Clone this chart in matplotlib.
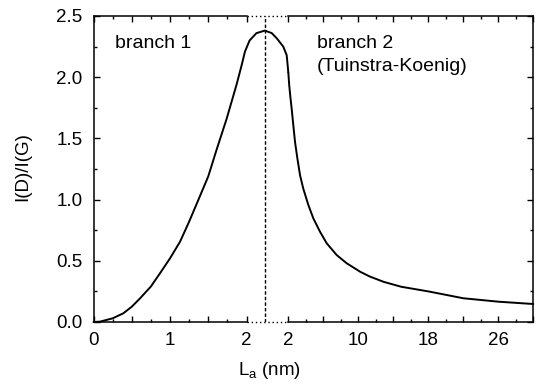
import matplotlib
matplotlib.use("Agg")
import matplotlib.pyplot as plt
from matplotlib.ticker import FixedLocator, FixedFormatter

plt.rcParams['font.family'] = ['Liberation Sans', 'DejaVu Sans']

# Branch 1: I(D)/I(G) rising with La (left segment, linear nm scale)
la_branch1 = [0.0, 0.085, 0.25, 0.39, 0.5, 0.608, 0.75, 0.869, 1.0, 1.131,
              1.25, 1.37, 1.5, 1.61, 1.74, 1.87, 1.937, 1.98, 2.04, 2.13,
              2.24, 2.33, 2.395, 2.48, 2.525, 2.546]
ratio_branch1 = [0.0, 0.003, 0.03, 0.071, 0.125, 0.193, 0.29, 0.398, 0.52,
                 0.656, 0.82, 0.997, 1.19, 1.41, 1.66, 1.94, 2.10, 2.21,
                 2.30, 2.36, 2.381, 2.36, 2.318, 2.25, 2.18, 2.04]

# Branch 2: Tuinstra-Koenig regime (right segment, compressed nm scale)
la_branch2 = [2.0, 2.11, 2.25, 2.39, 2.57, 2.77, 3.03, 3.34, 3.71, 4.29,
              4.86, 5.62, 6.39, 7.53, 8.67, 10.2, 11.3, 12.9, 14.9, 18.0,
              22.0, 26.0, 30.0]
ratio_branch2 = [2.04, 1.93, 1.83, 1.74, 1.61, 1.47, 1.34, 1.20, 1.09,
                 0.956, 0.847, 0.738, 0.643, 0.547, 0.48, 0.411, 0.372, 0.328,
                 0.288, 0.25, 0.194, 0.166, 0.147]

peak_la = 2.24

left_major = [0, 0.5, 1, 1.5, 2]
left_labels = ['0', '', '1', '', '2']
left_minor = [0.25, 0.75, 1.25, 1.75]
right_major = [2, 6, 10, 14, 18, 22, 26, 30]
right_labels = ['2', '', '10', '', '18', '', '26', '']
right_minor = [4, 8, 12, 16, 20, 24, 28]
y_major = [0.0, 0.5, 1.0, 1.5, 2.0, 2.5]
y_minor = [0.25, 0.75, 1.25, 1.75, 2.25]

W, H = 536, 385
L, R, B, T, SPLIT = 93.5, 533.3, 322.0, 16.0, 288.3

fig = plt.figure(figsize=(W / 100, H / 100), dpi=100)
ax_l = fig.add_axes([L / W, (H - B) / H, (SPLIT - L) / W, (B - T) / H])
ax_r = fig.add_axes([SPLIT / W, (H - B) / H, (R - SPLIT) / W, (B - T) / H])

ax_l.set_xlim(0, 2.546)
ax_r.set_xlim(2, 30)
for ax in (ax_l, ax_r):
    ax.patch.set_visible(False)
    ax.set_ylim(0, 2.5)
    for sp in ax.spines.values():
        sp.set_linewidth(1.1)
    ax.yaxis.set_major_locator(FixedLocator(y_major))
    ax.yaxis.set_minor_locator(FixedLocator(y_minor))
    ax.tick_params(which='both', direction='in', top=True, width=1.0,
                   labelsize=13.5)
    ax.tick_params(which='major', length=4.0)
    ax.tick_params(which='minor', length=2.0)
    ax.tick_params(axis='x', pad=7)

ax_l.spines['right'].set_visible(False)
ax_r.spines['left'].set_visible(False)
ax_l.spines['bottom'].set_bounds(0, 2)
ax_l.spines['top'].set_bounds(0, 2)

ax_l.tick_params(axis='y', which='both', left=True, right=False)
ax_l.tick_params(axis='y', pad=8)
ax_r.tick_params(axis='y', which='both', left=False, right=True,
                 labelleft=False, labelright=False)

ax_l.xaxis.set_major_locator(FixedLocator(left_major))
ax_l.xaxis.set_major_formatter(FixedFormatter(left_labels))
ax_l.xaxis.set_minor_locator(FixedLocator(left_minor))
ax_r.xaxis.set_major_locator(FixedLocator(right_major))
ax_r.xaxis.set_major_formatter(FixedFormatter(right_labels))
ax_r.xaxis.set_minor_locator(FixedLocator(right_minor))
ax_l.set_yticklabels([f"{v:.1f}" for v in y_major])

# dotted frame across the axis break
for yv in (0.0, 2.5):
    ax_l.plot([2, 2.546], [yv, yv], color='black', lw=1.0,
              linestyle=(0, (1, 2)), clip_on=False)

ax_l.axvline(peak_la, color='black', lw=1.0, linestyle=(0, (2.5, 1.5)))

for ax, xs, ys in ((ax_l, la_branch1, ratio_branch1),
                   (ax_r, la_branch2, ratio_branch2)):
    ax.plot(xs, ys, color='black', lw=1.4, clip_on=False,
            solid_joinstyle='round', solid_capstyle='round')

fig.text(115 / W, 1 - 48 / H, 'branch 1', fontsize=14, va='baseline')
fig.text(316.7 / W, 1 - 48 / H, 'branch 2', fontsize=14, va='baseline')
fig.text(316.7 / W, 1 - 71 / H, '(Tuinstra-Koenig)', fontsize=14,
         va='baseline')

fig.text(270 / W, 1 - 375 / H, r'L$_\mathregular{a}$ (nm)', fontsize=13.5,
         ha='center', va='baseline')
fig.text(23 / W, 1 - 167 / H, 'I(D)/I(G)', fontsize=13.5, rotation=90,
         ha='center', va='center')

fig.savefig('out.png', dpi=100)
